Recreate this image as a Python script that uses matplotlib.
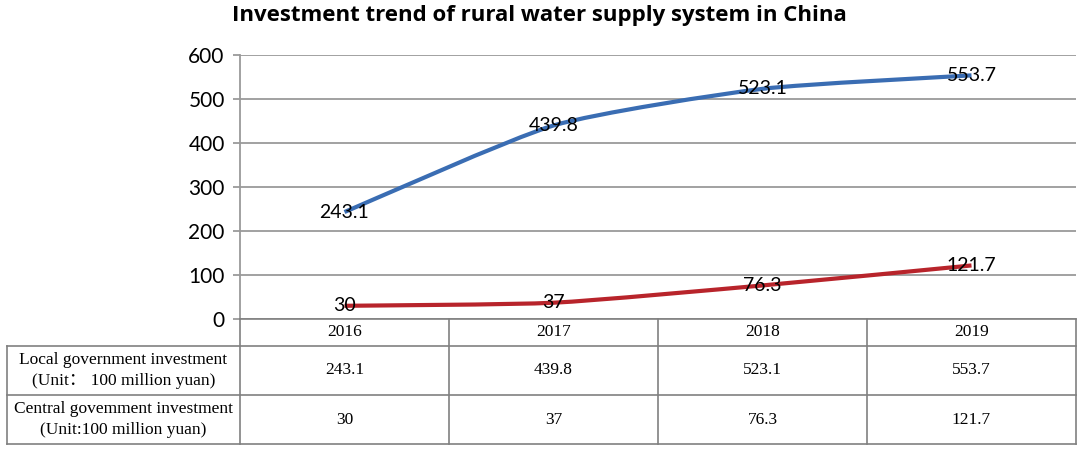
import matplotlib
matplotlib.use("Agg")
import matplotlib.pyplot as plt
from matplotlib.path import Path
from matplotlib.patches import PathPatch
import numpy as np

# ---- data ----
years = ["2016", "2017", "2018", "2019"]
local_inv = [243.1, 439.8, 523.1, 553.7]
central_inv = [30, 37, 76.3, 121.7]
row_labels = ["Local government investment\n(Unit\uff1a 100 million yuan)",
              "Central govemment investment\n(Unit:100 million yuan)"]
local_labels = ["243.1", "439.8", "523.1", "553.7"]
central_labels = ["30", "37", "76.3", "121.7"]
yticks = [0, 100, 200, 300, 400, 500, 600]
title = "Investment trend of rural water supply system in China"

W, H = 1084, 453
fig = plt.figure(figsize=(W / 100, H / 100), dpi=100)

# plot area in pixels
L, R, T, B = 240, 1076, 55, 319
ax = fig.add_axes([L / W, (H - B) / H, (R - L) / W, (B - T) / H])
ax.set_xlim(-0.5, 3.5)
ax.set_ylim(0, 600)
ax.set_yticks(yticks)
ax.set_xticks([])
for s in ["top", "right", "bottom"]:
    ax.spines[s].set_visible(False)
ax.spines["left"].set_color("#9a9a9a")
ax.spines["left"].set_linewidth(1.3)
ax.yaxis.grid(True, color="#9a9a9a", linewidth=1.3)
ax.set_axisbelow(True)
ax.tick_params(axis="y", length=5, width=1.3, color="#9a9a9a", pad=6,
               labelsize=15)
for lab in ax.get_yticklabels():
    lab.set_fontfamily("Lato")


def smooth_path(xs, ys, k=10.0):
    pts = np.column_stack([xs, ys]).astype(float)
    n = len(pts)
    verts = [pts[0]]
    codes = [Path.MOVETO]
    for i in range(n - 1):
        p0 = pts[i - 1] if i > 0 else pts[i]
        p1 = pts[i]
        p2 = pts[i + 1]
        p3 = pts[i + 2] if i + 2 < n else pts[i + 1]
        c1 = p1 + (p2 - p0) / k
        c2 = p2 - (p3 - p1) / k
        verts += [c1, c2, p2]
        codes += [Path.CURVE4] * 3
    return Path(verts, codes)


xs = np.arange(len(years))
for vals, col in [(local_inv, "#3a6db3"), (central_inv, "#b8242b")]:
    patch = PathPatch(smooth_path(xs, vals), facecolor="none", edgecolor=col,
                      linewidth=3, capstyle="butt", zorder=3)
    ax.add_patch(patch)

for vals, labs in [(local_inv, local_labels), (central_inv, central_labels)]:
    for x, v, t in zip(xs, vals, labs):
        ax.text(x, v, t, ha="center", va="center", fontsize=14,
                fontfamily="Lato", color="black", zorder=4)

fig.text(0.498, 1 - 16 / H, title, ha="center", va="center",
         fontsize=16, fontweight="bold", fontfamily="Open Sans")

# ---- data table ----
TL, TT, TB = 7, 319, 444
axt = fig.add_axes([TL / W, (H - TB) / H, (R - TL) / W, (TB - TT) / H])
unit = (R - L) / 4.0
x_left = -0.5 - (L - TL) / unit
axt.set_xlim(x_left, 3.5)
axt.set_ylim(TB, TT)
axt.axis("off")
lc = "#808080"
lw = 1.2
r1, r2 = 346, 395
# horizontal lines
axt.plot([-0.5, 3.5], [TT, TT], color=lc, lw=lw, clip_on=False)
for y in [r1, r2, TB]:
    axt.plot([x_left, 3.5], [y, y], color=lc, lw=lw, clip_on=False)
# vertical lines
axt.plot([x_left, x_left], [r1, TB], color=lc, lw=lw, clip_on=False)
for i in range(len(years) + 1):
    xb = i - 0.5
    axt.plot([xb, xb], [TT, TB], color=lc, lw=lw, clip_on=False)

serif = ["Liberation Serif", "Noto Sans CJK SC", "DejaVu Sans"]
yc_head = (TT + r1) / 2
yc1 = (r1 + r2) / 2
yc2 = (r2 + TB) / 2
xc_lab = (x_left - 0.5) / 2
for i, yr in enumerate(years):
    axt.text(i, yc_head, yr, ha="center", va="center", fontsize=12.5,
             family=serif)
    axt.text(i, yc1, local_labels[i], ha="center", va="center", fontsize=12.5,
             family=serif)
    axt.text(i, yc2, central_labels[i], ha="center", va="center", fontsize=12.5,
             family=serif)
for lab, yc in zip(row_labels, [yc1, yc2]):
    axt.text(xc_lab, yc, lab, ha="center", va="center", fontsize=12.5,
             family=serif, linespacing=1.4)

fig.savefig("out.png", dpi=100)
